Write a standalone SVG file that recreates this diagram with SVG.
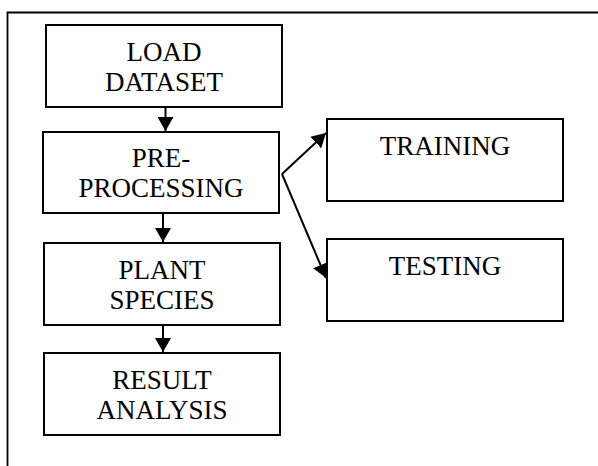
<svg xmlns="http://www.w3.org/2000/svg" width="598" height="466" viewBox="0 0 598 466">
<style>
.box{fill:#fff;stroke:#000;stroke-width:2}
.lbl{font-family:"Liberation Serif","Times New Roman",serif;font-size:27px;fill:#000;text-anchor:middle}
.conn{stroke:#000;stroke-width:2;fill:none}
.frame{stroke:#000;stroke-width:1.8;fill:none}
</style>
<defs>
<marker id="ah" viewBox="0 0 14 16" refX="14" refY="8" markerWidth="14" markerHeight="16" markerUnits="userSpaceOnUse" orient="auto">
<path d="M0,0 L14,8 L0,16 z" fill="#000"/>
</marker>
</defs>
<path class="frame" d="M7.5,466 L7.5,12.5 L598,12.5"/>
<g id="load">
<rect class="box" x="46" y="25" width="236" height="82"/>
<text class="lbl" x="164" y="61">LOAD</text>
<text class="lbl" x="164" y="91">DATASET</text>
</g>
<g id="preprocessing">
<rect class="box" x="43" y="132" width="236" height="81"/>
<text class="lbl" x="161" y="167">PRE-</text>
<text class="lbl" x="161" y="197">PROCESSING</text>
</g>
<g id="plant">
<rect class="box" x="44" y="243" width="236" height="82"/>
<text class="lbl" x="162" y="279">PLANT</text>
<text class="lbl" x="162" y="309">SPECIES</text>
</g>
<g id="result">
<rect class="box" x="44" y="353" width="236" height="82"/>
<text class="lbl" x="162" y="389">RESULT</text>
<text class="lbl" x="162" y="419">ANALYSIS</text>
</g>
<g id="training">
<rect class="box" x="327" y="119" width="236" height="82"/>
<text class="lbl" x="445" y="155">TRAINING</text>
</g>
<g id="testing">
<rect class="box" x="327" y="239" width="236" height="82"/>
<text class="lbl" x="445" y="275">TESTING</text>
</g>
<g id="connectors">
<line class="conn" x1="165.5" y1="107" x2="165.5" y2="131" marker-end="url(#ah)"/>
<line class="conn" x1="163" y1="213" x2="163" y2="242" marker-end="url(#ah)"/>
<line class="conn" x1="163" y1="325" x2="163" y2="352" marker-end="url(#ah)"/>
<line class="conn" x1="282" y1="174" x2="326" y2="133" marker-end="url(#ah)"/>
<line class="conn" x1="282" y1="174" x2="326" y2="278" marker-end="url(#ah)"/>
</g>
</svg>
